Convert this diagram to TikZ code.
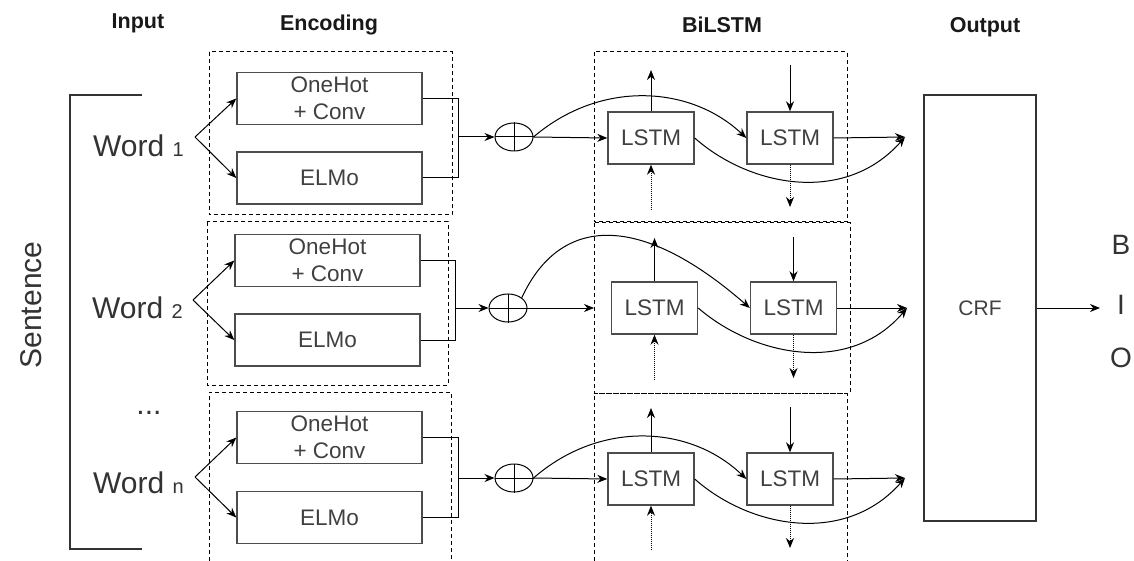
\documentclass[tikz,border=0pt]{standalone}
\usepackage{fontspec}
\setmainfont{Liberation Sans}
\usetikzlibrary{arrows.meta,shapes.geometric}
\begin{document}
\begin{tikzpicture}[x=1pt,y=-1pt,
  hdr/.style={font=\bfseries\fontsize{21.5}{25}\selectfont, text=black!90},
  enc/.style={draw=black!70, line width=1.4pt, minimum width=185pt, minimum height=52pt, inner sep=0pt, align=center, font=\fontsize{22.5}{27}\selectfont, text=black!75},
  lstm/.style={draw=black!70, line width=1.4pt, minimum width=86pt, minimum height=52pt, inner sep=0pt, font=\fontsize{22.5}{26}\selectfont, text=black!75},
  word/.style={font=\fontsize{30}{34}\selectfont, text=black!80, inner sep=0pt},
  plus/.style={draw, ellipse, line width=1pt, minimum width=38pt, minimum height=28pt, inner sep=0pt},
  arr/.style={-{Stealth[length=10pt,width=8pt]}, line width=1pt},
  thin/.style={line width=1pt},
  darr/.style={-{Stealth[length=10pt,width=8pt]}, line width=1pt, densely dotted},
  dbox/.style={line width=1pt, dash pattern=on 4pt off 3pt},
  big/.style={font=\fontsize{28}{32}\selectfont, text=black!80}
]
\useasboundingbox (0,0) rectangle (1134,561);

% headers
\node[hdr] (hin) at (138,23) {Input};
\node[hdr] (henc) at (329,25) {Encoding};
\node[hdr] (hbi) at (722,25) {BiLSTM};
\node[hdr] (hout) at (985,27) {Output};

% sentence bracket
\coordinate (bt) at (142,95);
\coordinate (btl) at (70,95);
\coordinate (bbl) at (70,549);
\coordinate (bb) at (142,549);
\draw[line width=1.6pt, black!80] (bt) -- (btl) -- (bbl) -- (bb);
\node[word, rotate=90] (sent) at (31,305) {Sentence};
\node[word] (dots) at (149,413) {...};

% dashed boxes
\draw[dbox] (209,52) rectangle (452,215);
\draw[dbox] (207,222) rectangle (448,385);
\draw[dbox] (209,561) -- (209,392) -- (451,392) -- (451,561);
\draw[dbox] (594,52) rectangle (847,222);
\draw[dbox] (594,223) rectangle (850,393);
\draw[dbox] (594,561) -- (594,393) -- (847,393) -- (847,561);

% ---------- Row 1 ----------
\node[word, anchor=base west] (w1) at (93,157) {Word {\fontsize{20}{24}\selectfont 1}};
\coordinate (b1) at (195,137);
\node[enc] (oh1) at (329.5,98.5) {OneHot\\+ Conv};
\node[enc] (el1) at (329.5,178) {ELMo};
\draw[arr] (b1) -- (oh1.west);
\draw[arr] (b1) -- (el1.west);
\coordinate (m1) at (458,137);
\draw[thin] (oh1.east) -| (m1);
\draw[thin] (el1.east) -| (m1);
\node[plus] (e1) at (514,137) {};
\draw[thin] (e1.north) -- (e1.south) (e1.west) -- (e1.east);
\draw[arr] (m1) -- (e1.west);
\node[lstm] (l1a) at (651,138) {LSTM};
\node[lstm] (l1b) at (790,138) {LSTM};
\draw[arr] (e1.east) -- (l1a.west);
\draw[arr] (e1.east) .. controls (600,80) and (690,85) .. (l1b.west);
\coordinate (o1) at (905,137);
\draw[arr] (l1b.east) -- (o1);
\draw[arr] (l1a.east) .. controls (750,187) and (845,205) .. (o1);
\coordinate (u1) at (651,70);
\coordinate (d1) at (790,65);
\coordinate (du1) at (651,210);
\coordinate (dd1) at (790,207);
\draw[arr] (l1a.north) -- (u1);
\draw[arr] (d1) -- (l1b.north);
\draw[darr] (du1) -- (l1a.south);
\draw[darr] (l1b.south) -- (dd1);

% ---------- Row 2 ----------
\node[word, anchor=base west] (w2) at (92,318) {Word {\fontsize{20}{24}\selectfont 2}};
\coordinate (b2) at (193,300);
\node[enc] (oh2) at (327.5,260.5) {OneHot\\+ Conv};
\node[enc] (el2) at (327.5,340) {ELMo};
\draw[arr] (b2) -- (oh2.west);
\draw[arr] (b2) -- (el2.west);
\coordinate (m2) at (455,308);
\draw[thin] (oh2.east) -| (m2);
\draw[thin] (el2.east) -| (m2);
\node[plus] (e2) at (508,308) {};
\draw[thin] (e2.north) -- (e2.south) (e2.west) -- (e2.east);
\draw[arr] (m2) -- (e2.west);
\node[lstm] (l2a) at (654.5,308) {LSTM};
\node[lstm] (l2b) at (793.5,308) {LSTM};
\coordinate (s2) at (594,308);
\draw[arr] (e2.east) -- (s2);
\draw[arr] (e2.north east) .. controls (560,215) and (640,212) .. (l2b.west);
\coordinate (o2) at (907,308);
\draw[arr] (l2b.east) -- (o2);
\draw[arr] (l2a.east) .. controls (755,357) and (850,375) .. (o2);
\coordinate (u2) at (654.5,238);
\coordinate (d2) at (793.5,237);
\coordinate (du2) at (654.5,380);
\coordinate (dd2) at (793.5,378);
\draw[arr] (l2a.north) -- (u2);
\draw[arr] (d2) -- (l2b.north);
\draw[darr] (du2) -- (l2a.south);
\draw[darr] (l2b.south) -- (dd2);

% ---------- Row 3 ----------
\node[word, anchor=base west] (w3) at (93,493) {Word {\fontsize{20}{24}\selectfont n}};
\coordinate (b3) at (195,477);
\node[enc] (oh3) at (329.5,437.5) {OneHot\\+ Conv};
\node[enc] (el3) at (329.5,517.5) {ELMo};
\draw[arr] (b3) -- (oh3.west);
\draw[arr] (b3) -- (el3.west);
\coordinate (m3) at (458,478);
\draw[thin] (oh3.east) -| (m3);
\draw[thin] (el3.east) -| (m3);
\node[plus] (e3) at (514,478) {};
\draw[thin] (e3.north) -- (e3.south) (e3.west) -- (e3.east);
\draw[arr] (m3) -- (e3.west);
\node[lstm] (l3a) at (651,479) {LSTM};
\node[lstm] (l3b) at (790,479) {LSTM};
\draw[arr] (e3.east) -- (l3a.west);
\draw[arr] (e3.east) .. controls (600,420) and (690,425) .. (l3b.west);
\coordinate (o3) at (905,478);
\draw[arr] (l3b.east) -- (o3);
\draw[arr] (l3a.east) .. controls (750,528) and (845,546) .. (o3);
\coordinate (u3) at (651,408);
\coordinate (d3) at (790,407);
\coordinate (du3) at (651,550);
\coordinate (dd3) at (790,548);
\draw[arr] (l3a.north) -- (u3);
\draw[arr] (d3) -- (l3b.north);
\draw[darr] (du3) -- (l3a.south);
\draw[darr] (l3b.south) -- (dd3);

% ---------- Output ----------
\node[draw=black!80, line width=1.2pt, minimum width=112pt, minimum height=426pt, inner sep=0pt, font=\fontsize{21}{24}\selectfont, text=black!75] (crf) at (980,308) {CRF};
\coordinate (co) at (1100,308);
\draw[arr] (crf.east) -- (co);
\node[big] (B) at (1121,245) {B};
\node[big] (I) at (1121,305) {I};
\node[big] (O) at (1121,358) {O};
\end{tikzpicture}
\end{document}
